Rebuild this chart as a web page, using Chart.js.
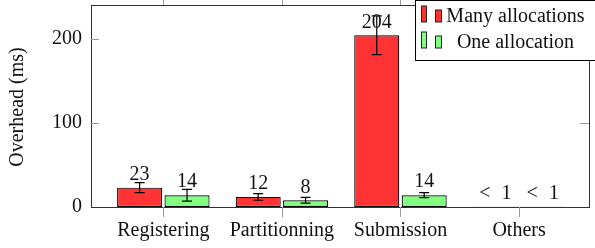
<!DOCTYPE html>
<html><head><meta charset="utf-8">
<script src="https://cdn.jsdelivr.net/npm/chart.js@4/dist/chart.umd.min.js"></script>
<style>html,body{margin:0;padding:0;background:#fff}#wrap{width:595px;height:248px}</style>
</head><body><div id="wrap"><canvas id="c" width="595" height="248"></canvas></div>
<script>
const categories = ["Registering", "Partitionning", "Submission", "Others"];
const manyValues = [23, 12, 204, 0.3];
const manyErrors = [6, 4, 23, 0];
const oneValues = [14, 8, 14, 0.3];
const oneErrors = [7, 3.5, 3, 0];
const seriesNames = ["Many allocations", "One allocation"];
const yTicks = [0, 100, 200];
const yTitle = "Overhead (ms)";

const FONT = "'Liberation Serif', 'DejaVu Serif', serif";
const FS = 20;

function pts(vals){ return vals.map((v,i)=>({x:i, y:v})); }
function lbl(v){ return v < 1 ? "< 1" : String(v); }

const errPlugin = {
  id: 'extras',
  afterDatasetsDraw(chart) {
    const ctx = chart.ctx, ys = chart.scales.y, xs = chart.scales.x, a = chart.chartArea;
    const errs = [manyErrors, oneErrors];
    const vals = [manyValues, oneValues];
    ctx.save();
    chart.data.datasets.forEach((ds, di) => {
      const meta = chart.getDatasetMeta(di);
      meta.data.forEach((el, i) => {
        const e = errs[di][i];
        if (e > 0) {
          const v = vals[di][i];
          const y1 = ys.getPixelForValue(v + e), y2 = ys.getPixelForValue(v - e);
          ctx.strokeStyle = '#000'; ctx.lineWidth = 1.2;
          ctx.beginPath();
          ctx.moveTo(el.x, y1); ctx.lineTo(el.x, y2);
          ctx.moveTo(el.x - 5, y1); ctx.lineTo(el.x + 5, y1);
          ctx.moveTo(el.x - 5, y2); ctx.lineTo(el.x + 5, y2);
          ctx.stroke();
        }
      });
    });
    ctx.fillStyle = '#111';
    ctx.font = FS + 'px ' + FONT;
    ctx.textAlign = 'center'; ctx.textBaseline = 'middle';
    chart.data.datasets.forEach((ds, di) => {
      const meta = chart.getDatasetMeta(di);
      meta.data.forEach((el, i) => {
        const t = lbl(vals[di][i]);
        if (vals[di][i] < 1) {
          ctx.letterSpacing = '3px';
          ctx.fillText(t, el.x + 1.5, el.y - 13);
          ctx.letterSpacing = '0px';
        } else {
          ctx.fillText(t, el.x, el.y - 13);
        }
      });
    });
    ctx.strokeStyle = '#333'; ctx.lineWidth = 1;
    ctx.strokeRect(Math.round(a.left)+0.5, Math.round(a.top)+0.5, Math.round(a.right-a.left), Math.round(a.bottom-a.top));
    ctx.strokeStyle = '#999';
    ctx.beginPath();
    categories.forEach((c, i) => {
      const x = Math.round(xs.getPixelForValue(i)) + 0.5;
      ctx.moveTo(x, a.bottom); ctx.lineTo(x, a.bottom + 10);
      ctx.moveTo(x, a.top); ctx.lineTo(x, a.top - 6);
    });
    yTicks.forEach(t => {
      const y = Math.round(ys.getPixelForValue(t)) + 0.5;
      if (t > 0) {
        ctx.moveTo(a.left, y); ctx.lineTo(a.left + 8, y);
        ctx.moveTo(a.right, y); ctx.lineTo(a.right - 9, y);
      }
    });
    ctx.stroke();
    ctx.save();
    ctx.translate(18, (a.top + a.bottom) / 2 + 1);
    ctx.rotate(-Math.PI / 2);
    ctx.fillStyle = '#111';
    ctx.fillText(yTitle, 0, 0);
    ctx.restore();
    const lx = 415.5, ly = 0.5, lw = 185, lh = 60;
    ctx.fillStyle = '#fff';
    ctx.fillRect(lx, ly, lw, lh);
    ctx.strokeStyle = '#000'; ctx.lineWidth = 1;
    ctx.strokeRect(lx, ly, lw, lh);
    const rows = [17, 43];
    chart.data.datasets.forEach((ds, di) => {
      const cy = rows[di];
      ctx.fillStyle = ds.backgroundColor; ctx.strokeStyle = '#222'; ctx.lineWidth = 1;
      ctx.fillRect(421.5, cy - 11, 5, 16); ctx.strokeRect(421.5, cy - 11, 5, 16);
      ctx.fillRect(435.5, cy - 7, 6, 12); ctx.strokeRect(435.5, cy - 7, 6, 12);
      ctx.fillStyle = '#111';
      ctx.textAlign = 'center';
      ctx.fillText(ds.label, 515.5, cy);
    });
    ctx.restore();
  }
};

new Chart(document.getElementById('c'), {
  type: 'bar',
  data: {
    datasets: [
      { label: seriesNames[0], data: pts(manyValues), backgroundColor: '#ff3333', borderColor: '#000', borderWidth: 1.2, borderSkipped: false },
      { label: seriesNames[1], data: pts(oneValues), backgroundColor: '#80ff80', borderColor: '#000', borderWidth: 1.2, borderSkipped: false }
    ]
  },
  options: {
    responsive: false, animation: false,
    layout: { padding: { top: 5, right: 6, left: 0, bottom: 0 } },
    categoryPercentage: 0.8, barPercentage: 0.95,
    plugins: { legend: { display: false }, tooltip: { enabled: false } },
    scales: {
      x: {
        type: 'linear', min: -0.61, max: 3.59, offset: false,
        grid: { display: false, drawTicks: false, offset: false }, border: { display: false },
        afterBuildTicks(s) { s.ticks = categories.map((c, i) => ({ value: i })); },
        afterFit(s) { s.height = 41; s.paddingLeft = 0; s.paddingRight = 0; },
        ticks: { padding: 12, color: '#111', font: { family: FONT, size: FS }, autoSkip: false, maxRotation: 0,
          callback: v => categories[v] }
      },
      y: {
        min: 0, max: 240,
        grid: { display: false, drawTicks: false }, border: { display: false },
        afterBuildTicks(s) { s.ticks = yTicks.map(v => ({ value: v })); },
        afterFit(s) { s.width = 91; s.paddingTop = 0; s.paddingBottom = 0; },
        ticks: { padding: 9, color: '#111', font: { family: FONT, size: FS } }
      }
    }
  },
  plugins: [errPlugin]
});
</script></body></html>
